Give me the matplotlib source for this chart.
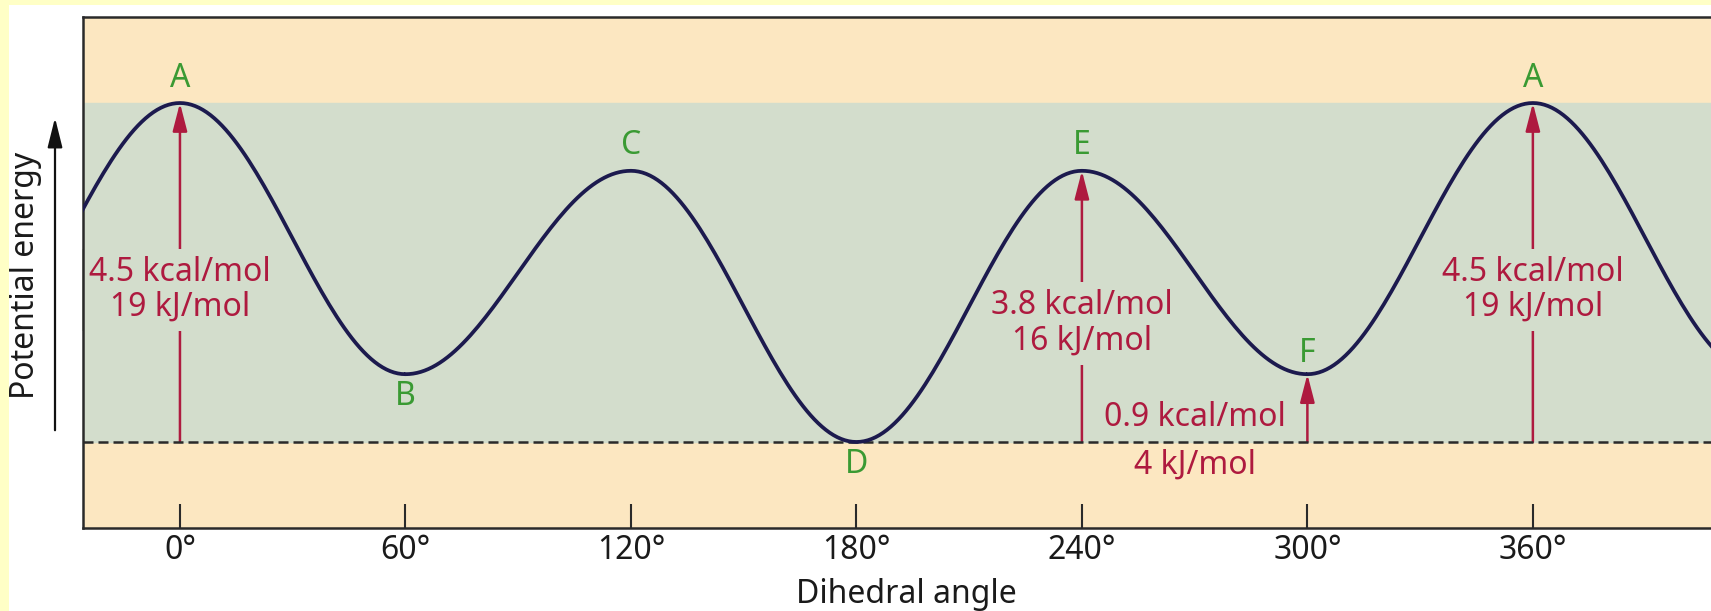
import numpy as np
import matplotlib
matplotlib.use("Agg")
import matplotlib.pyplot as plt
from matplotlib.patches import Rectangle, FancyArrowPatch

plt.rcParams['font.family'] = ['Noto Sans', 'DejaVu Sans']

# Conformations along the torsion (extremes of the curve)
angles = [-60, 0, 60, 120, 180, 240, 300, 360, 420]
energies = [0.9, 4.5, 0.9, 3.6, 0.0, 3.6, 0.9, 4.5, 0.9]
point_labels = ["F", "A", "B", "C", "D", "E", "F", "A", "B"]

tick_angles = [0, 60, 120, 180, 240, 300, 360]
tick_labels = ["0°", "60°", "120°", "180°", "240°", "300°", "360°"]

# Barrier annotations: angle, top energy, text
barriers = [(0, 4.5, "4.5 kcal/mol\n19 kJ/mol"),
            (240, 3.6, "3.8 kcal/mol\n16 kJ/mol"),
            (360, 4.5, "4.5 kcal/mol\n19 kJ/mol")]
gauche_angle = 300
gauche_energy = 0.9

orange = "#FCE7C1"
green_bg = "#D3DDCC"
navy = "#1C1A4E"
red = "#AE1A3F"
green_txt = "#3A9A33"
dark = "#2A2A2A"
fs = 23

fig = plt.figure(figsize=(17.11, 6.11), dpi=100)
fig.patch.set_facecolor("white")
# yellow frame strips on the left and top
fig.add_artist(Rectangle((0, 0), 9 / 1711, 1, transform=fig.transFigure,
                         facecolor="#FFFFC6", edgecolor="none"))
fig.add_artist(Rectangle((0, 1 - 5 / 611), 1, 5 / 611, transform=fig.transFigure,
                         facecolor="#FFFFC6", edgecolor="none"))

ax = fig.add_axes([83 / 1711, 83 / 611, 1 - 83 / 1711, 511 / 611])
ax.set_facecolor(orange)
ax.set_xlim(-25.8, 407.4)
ax.set_ylim(-1.142, 5.642)

ax.axhspan(0, 4.5, color=green_bg, zorder=0)
ax.axhline(0, color=dark, lw=1.8, ls=(0, (4, 2)), zorder=3)

# smooth curve through the extremes (cosine easing between neighbours)
xs, ys = [], []
for i in range(len(angles) - 1):
    t = np.linspace(0, 1, 60)
    xs.append(angles[i] + (angles[i + 1] - angles[i]) * t)
    ys.append(energies[i] + (energies[i + 1] - energies[i]) * (1 - np.cos(np.pi * t)) / 2)
ax.plot(np.concatenate(xs), np.concatenate(ys), color=navy, lw=2.7, zorder=5)

# letters at conformations
for a, e, lab in zip(angles, energies, point_labels):
    if a < 0 or a > 360:
        continue
    if e > 2:
        dy = 18
    elif lab == "F":
        dy = 15
    else:
        dy = -16
    ax.annotate(lab, xy=(a, e), xytext=(0, dy), textcoords="offset points",
                ha="center", va="center", color=green_txt, fontsize=fs, zorder=6)

arrow_style = "-|>,head_length=0.85,head_width=0.22"

# barrier arrows with labels (label box hides the arrow shaft behind the text)
for a, top, txt in barriers:
    ax.annotate("", xy=(a, top), xytext=(a, 0),
                arrowprops=dict(arrowstyle=arrow_style, color=red, lw=1.8,
                                shrinkA=0, shrinkB=0, mutation_scale=20), zorder=2.1)
    ty = 2.02 if top > 4 else 1.57
    ax.text(a, ty, txt, ha="center", va="center", color=red, fontsize=fs,
            linespacing=1.1, zorder=2.3,
            bbox=dict(facecolor=green_bg, edgecolor="none", pad=5))

ax.annotate("", xy=(gauche_angle, gauche_energy), xytext=(gauche_angle, 0),
            arrowprops=dict(arrowstyle=arrow_style, color=red, lw=1.8,
                            shrinkA=0, shrinkB=0, mutation_scale=20), zorder=2.1)
ax.text(270, 0.33, "0.9 kcal/mol", ha="center", va="center", color=red, fontsize=fs)
ax.text(270, -0.31, "4 kJ/mol", ha="center", va="center", color=red, fontsize=fs)

# axes styling
ax.set_xticks(tick_angles)
ax.set_xticklabels(tick_labels, fontsize=fs, color="#1A1A1A")
ax.tick_params(axis="x", direction="in", length=17, width=1.5, color=dark, pad=4)
ax.set_yticks([])
ax.spines["right"].set_visible(False)
for s in ["left", "top", "bottom"]:
    ax.spines[s].set_linewidth(1.8)
    ax.spines[s].set_color(dark)
    ax.spines[s].set_zorder(4)

ax.set_xlabel("Dihedral angle", fontsize=fs, color="#1A1A1A", va="center")
ax.xaxis.set_label_coords(0.5055, -0.131)
ax.set_ylabel("Potential energy", fontsize=fs, color="#1A1A1A", va="center")
ax.yaxis.set_label_coords(-0.0356, 0.495)

# energy arrow beside the y label
fig.add_artist(FancyArrowPatch((55 / 1711, 1 - 433 / 611), (55 / 1711, 1 - 115 / 611),
                               transform=fig.transFigure,
                               arrowstyle="-|>,head_length=1.0,head_width=0.25",
                               mutation_scale=18, color="#111111", lw=1.6))

fig.savefig("out.png", dpi=100)
